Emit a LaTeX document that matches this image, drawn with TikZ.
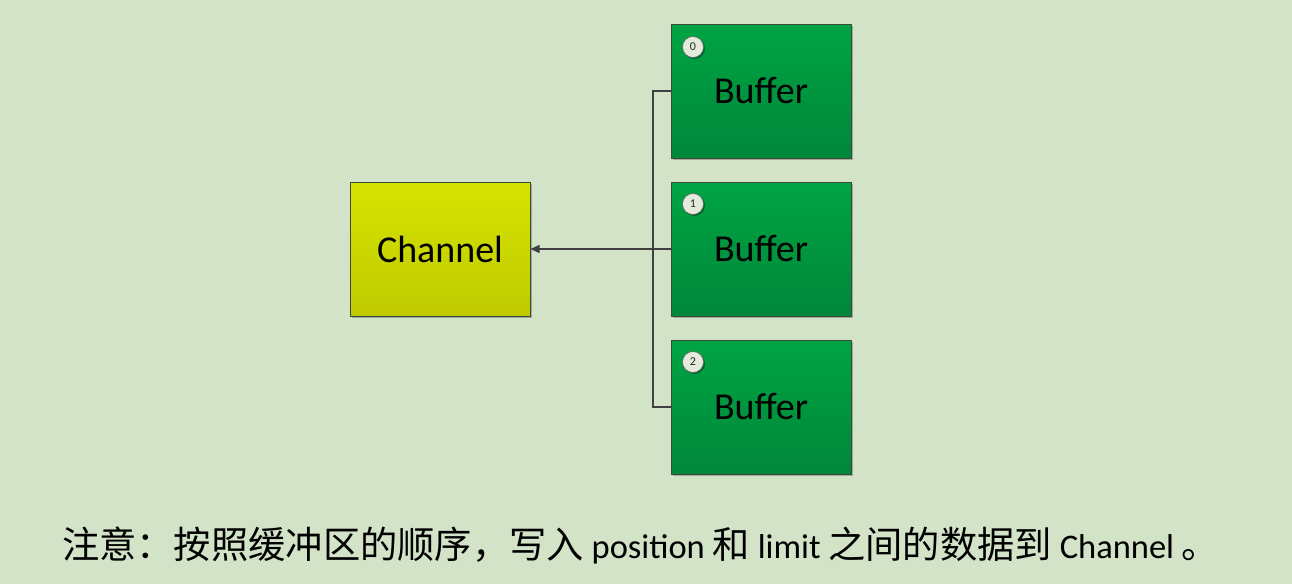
\documentclass[tikz,border=0pt]{standalone}
\usepackage{fontspec}
\setmainfont{Carlito}
\newfontfamily\cjk[Scale=1.08]{Noto Sans CJK SC}
\usetikzlibrary{arrows.meta,shadows}
\definecolor{bgc}{HTML}{D3E3C7}
\definecolor{bufTop}{HTML}{00A443}
\definecolor{bufBot}{HTML}{00873A}
\definecolor{chTop}{HTML}{D6E300}
\definecolor{chBot}{HTML}{BFCB00}
\definecolor{edgec}{HTML}{3C4A3C}
\definecolor{linec}{HTML}{404040}
\definecolor{badgec}{HTML}{E4EADC}
\tikzset{
  boxbase/.style={draw=edgec, line width=1pt, minimum width=180pt, minimum height=134pt, inner sep=0pt,
    font=\fontsize{38}{40}\selectfont, text=black,
    drop shadow={shadow xshift=2pt, shadow yshift=-2pt, opacity=0.25, fill=black}},
  bufbox/.style={boxbase, top color=bufTop, bottom color=bufBot},
  chbox/.style={boxbase, top color=chTop, bottom color=chBot},
  badge/.style={circle, draw=linec!80, line width=0.6pt, fill=badgec, minimum size=21pt, inner sep=0pt,
    font=\fontsize{12}{13}\selectfont, text=black!85,
    drop shadow={shadow xshift=1.5pt, shadow yshift=-1.5pt, opacity=0.35, fill=black}},
  link/.style={draw=linec, line width=1.1pt},
  caption/.style={font=\fontsize{34.5}{40}\selectfont, text=black, anchor=base west, inner sep=0pt}
}
\begin{document}
\begin{tikzpicture}[x=1pt,y=-1pt]
\fill[bgc] (0,0) rectangle (1292,584);
\useasboundingbox (0,0) rectangle (1292,584);

\node[chbox] (ch) at (440,249) {Channel};
\node[bufbox] (b0) at (761,91) {Buffer};
\node[bufbox] (b1) at (761,249) {Buffer};
\node[bufbox] (b2) at (761,407) {Buffer};

\node[badge] (n0) at (693,47) {0};
\node[badge] (n1) at (693,204) {1};
\node[badge] (n2) at (693,362) {2};

\coordinate (j) at (653,249);
\draw[link] (b0.west) -| (j);
\draw[link] (b2.west) -| (j);
\draw[link, -{Triangle[length=9pt,width=8pt]}] (b1.west) -- (ch.east);

\node[caption] (cap) at (62,558) {{\cjk 注意：按照缓冲区的顺序，写入} position {\cjk 和} limit {\cjk 之间的数据到} Channel {\cjk 。}};
\end{tikzpicture}
\end{document}
